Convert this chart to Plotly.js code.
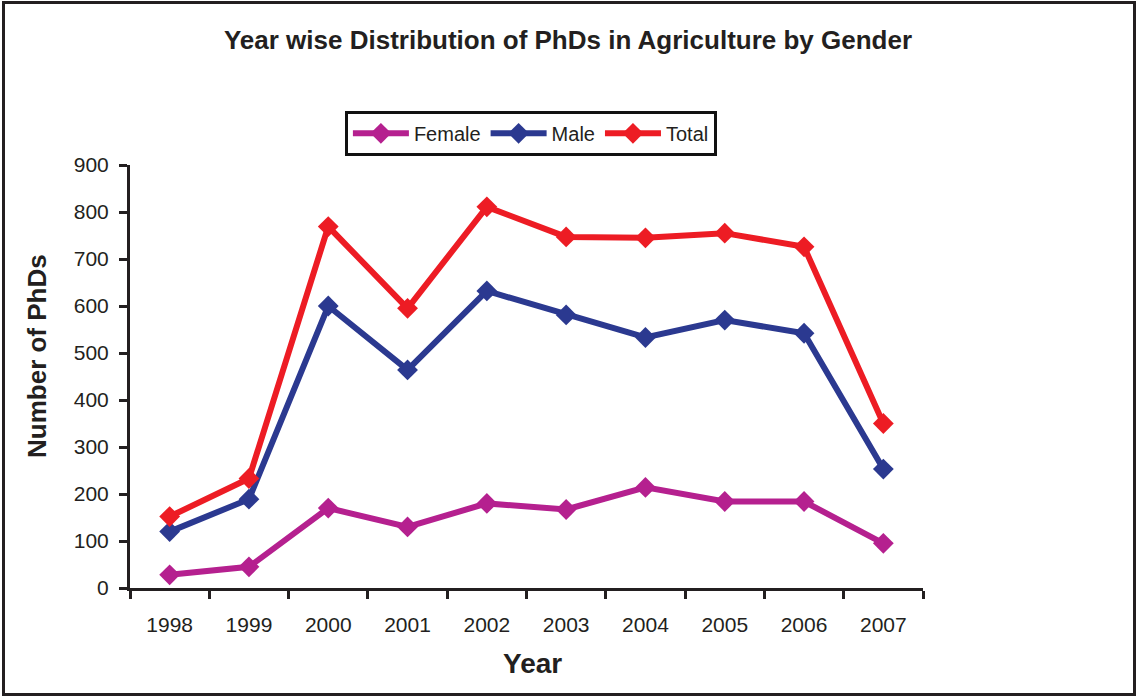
<!DOCTYPE html>
<html>
<head>
<meta charset="utf-8">
<script src="https://cdn.plot.ly/plotly-3.0.1.min.js"></script>
<style>
  html, body { margin: 0; padding: 0; background: #bcd4e6; }
  #chart { position: absolute; left: 0; top: 0; width: 1136px; height: 696px; background: #fff; }
  #frame { position: absolute; left: 2px; top: 1px; width: 1134px; height: 695px;
           box-sizing: border-box; border: 3px solid #231f20; pointer-events: none; }
</style>
</head>
<body>
<div id="chart"></div>
<div id="frame"></div>
<script>
// Year wise distribution of agriculture PhDs
const years  = ['1998', '1999', '2000', '2001', '2002', '2003', '2004', '2005', '2006', '2007'];
const female = [28, 45, 170, 130, 180, 167, 214, 184, 184, 95];
const male   = [120, 189, 600, 464, 632, 581, 533, 570, 542, 253];
const total  = [152, 233, 769, 595, 811, 747, 745, 755, 726, 350];

const INK  = '#231f20';
const FONT = 'Liberation Sans, Arial, Helvetica, sans-serif';

const makeTrace = (name, y, color) => ({
  x: years, y,
  type: 'scatter', mode: 'lines+markers',
  name,
  line: { color, width: 6 },
  marker: { symbol: 'diamond', size: 16, color },
  hovertemplate: `%{x}: %{y}<extra>${name}</extra>`
});

const traces = [
  makeTrace('Female', female, '#b5208f'),
  makeTrace('Male',   male,   '#2b3990'),
  makeTrace('Total',  total,  '#ed1c24')
];

const layout = {
  width: 1136, height: 696,
  margin: { l: 130, r: 213, t: 165, b: 108 },
  paper_bgcolor: 'rgba(0,0,0,0)',
  plot_bgcolor: '#FFFFFF',
  font: { family: FONT, color: INK },
  showlegend: true,
  title: {
    text: '<b>Year wise Distribution of PhDs in Agriculture by Gender</b>',
    font: { size: 26, color: INK },
    x: 0.5, xref: 'container', xanchor: 'center',
    y: 0.942, yref: 'container', yanchor: 'middle'
  },
  xaxis: {
    type: 'category',
    range: [-0.5, 9.5],
    showline: true, linecolor: INK, linewidth: 3,
    ticks: 'outside', tickson: 'boundaries', ticklen: 8, tickwidth: 3, tickcolor: INK,
    tickfont: { size: 21, color: INK },
    ticklabelstandoff: 16,
    showgrid: false, zeroline: false, fixedrange: true
  },
  yaxis: {
    range: [0, 900],
    dtick: 100,
    showline: true, linecolor: INK, linewidth: 3,
    ticks: 'outside', ticklen: 8, tickwidth: 3, tickcolor: INK,
    tickfont: { size: 21, color: INK },
    ticklabelstandoff: 6,
    showgrid: false, zeroline: false, fixedrange: true
  },
  legend: {
    orientation: 'h',
    x: 0.271, xanchor: 'left',
    y: 1.128, yanchor: 'top',
    bordercolor: '#111', borderwidth: 3,
    bgcolor: '#FFFFFF',
    itemwidth: 56,
    font: { size: 20, color: INK },
    traceorder: 'normal'
  },
  annotations: [
    {
      text: '<b>Number of PhDs</b>',
      xref: 'paper', yref: 'paper',
      x: -0.117, y: 0.549,
      xanchor: 'center', yanchor: 'middle',
      textangle: -90, showarrow: false,
      font: { size: 26, color: INK }
    },
    {
      text: '<b>Year</b>',
      xref: 'paper', yref: 'paper',
      x: 0.507, y: -0.178,
      xanchor: 'center', yanchor: 'middle',
      showarrow: false,
      font: { size: 28, color: INK }
    }
  ]
};

Plotly.newPlot('chart', traces, layout, { displayModeBar: false, staticPlot: true });
</script>
</body>
</html>
